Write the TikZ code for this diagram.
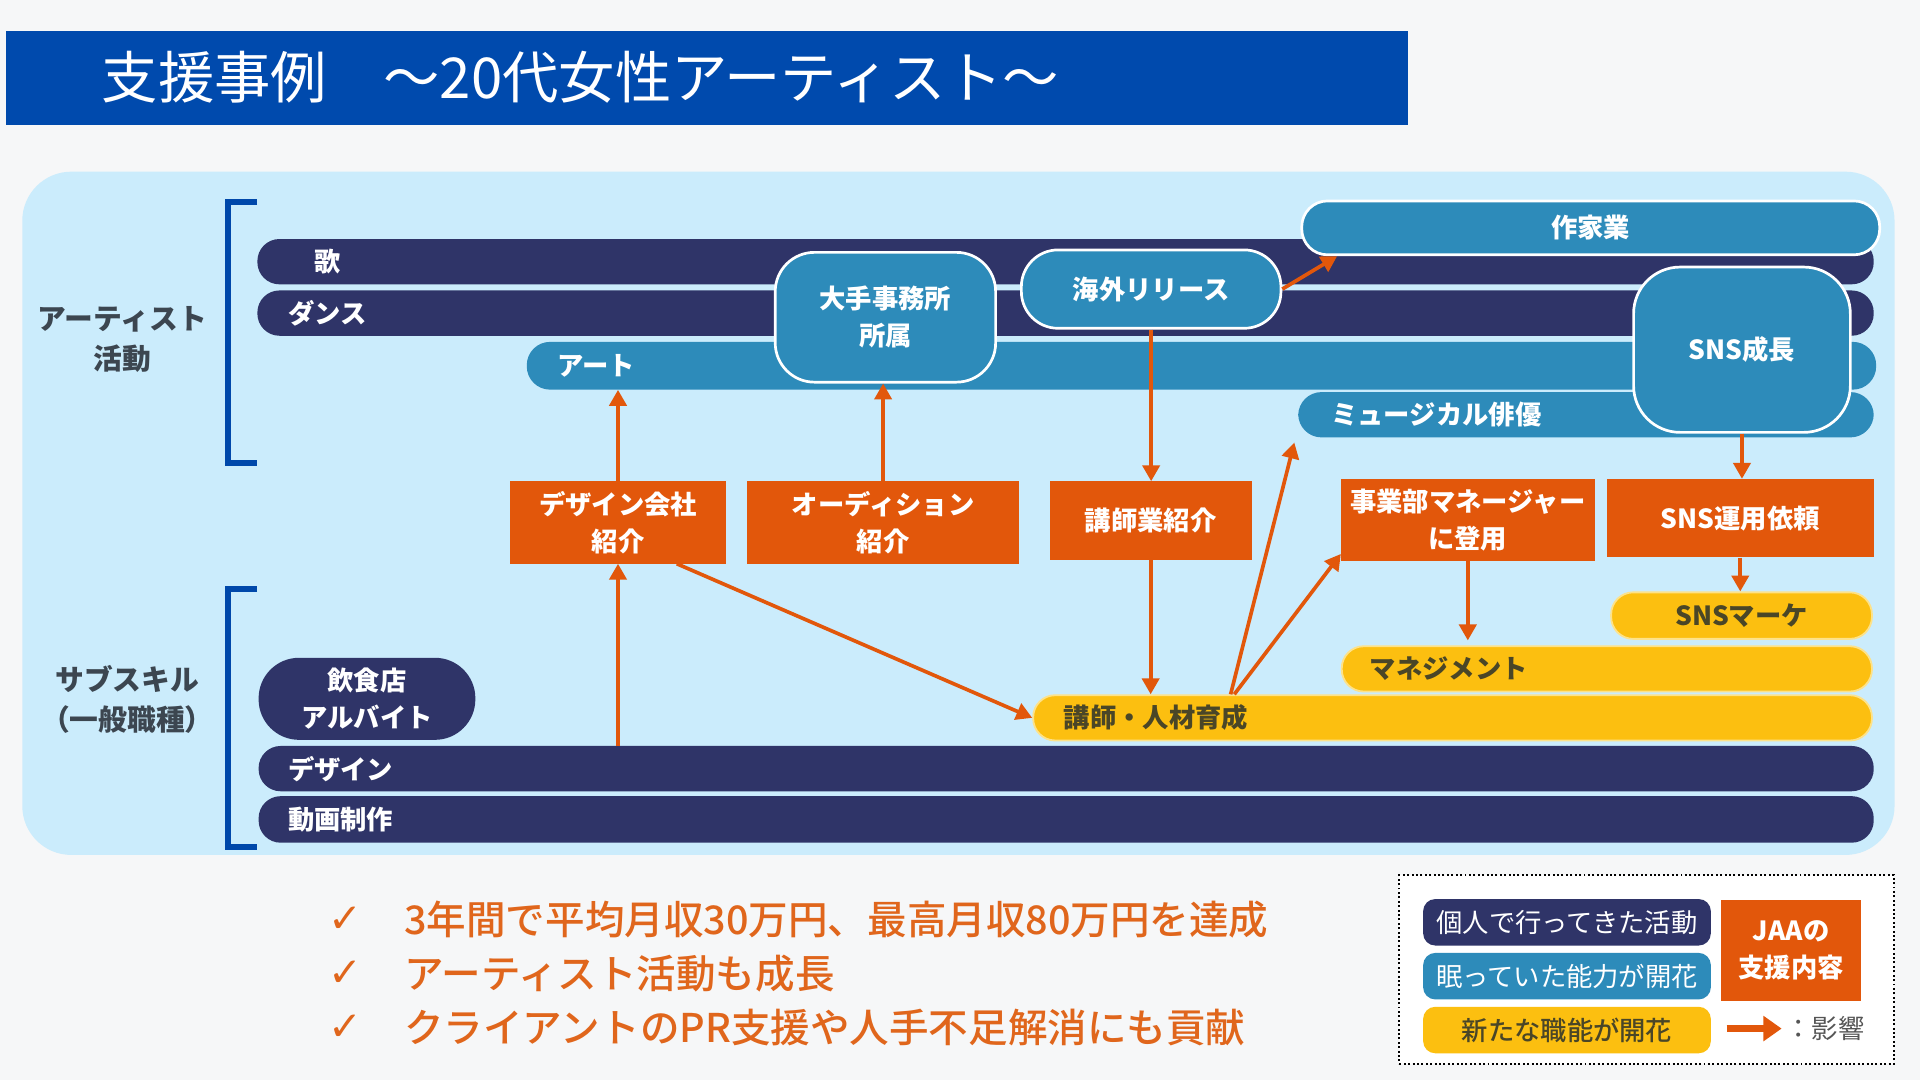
\documentclass[tikz,border=0pt]{standalone}
\usepackage{fontspec}
\setmainfont{Noto Sans CJK JP}
\newfontfamily\jpmed{Noto Sans CJK JP Medium}
\newfontfamily\dejavu{DejaVu Sans}
\usetikzlibrary{arrows.meta}
\definecolor{pagebg}{HTML}{F6F7F8}
\definecolor{titleblue}{HTML}{004AAD}
\definecolor{panelc}{HTML}{CBECFC}
\definecolor{navy}{HTML}{2F3468}
\definecolor{midblue}{HTML}{2D8BBA}
\definecolor{jaaorange}{HTML}{E2570B}
\definecolor{yel}{HTML}{FCBF10}
\definecolor{yelline}{HTML}{FDE28A}
\definecolor{bracketc}{HTML}{0048AA}
\definecolor{sidegray}{HTML}{3C4650}
\definecolor{yeltext}{HTML}{4A4627}
\definecolor{bulletc}{HTML}{E0661C}
\definecolor{legendgray}{HTML}{555555}
\newcommand\bx[8]{%
  \pgfmathsetmacro\bxw{#5-#3-2*#7}%
  \pgfmathsetmacro\bxh{#6-#4}%
  \node[#1, anchor=north west, inner xsep=#7pt, inner ysep=0pt,
        text width=\bxw pt, minimum height=\bxh pt] (#2) at (#3,#4) {#8};}
\tikzset{
  boxfont/.style={font=\fontsize{21.5}{30}\selectfont\bfseries},
  navybar/.style={fill=navy, text=white, boxfont, rounded corners=18pt, align=left},
  bluebar/.style={fill=midblue, text=white, boxfont, rounded corners=19pt, align=left},
  bluebox/.style={fill=midblue, draw=white, line width=2.2pt, text=white, boxfont, align=center},
  orbox/.style={fill=jaaorange, text=white, boxfont, align=center},
  yelbar/.style={fill=yel, draw=yelline, line width=1.5pt, text=yeltext, boxfont, rounded corners=18pt, align=left},
  arr/.style={draw=jaaorange, line width=3pt, -{Triangle[width=14pt,length=13pt]}},
  bracket/.style={draw=bracketc, line width=5pt, line join=miter},
  sidelabel/.style={text=sidegray, font=\fontsize{23.5}{33}\selectfont\bfseries, align=center},
  bullettext/.style={text=bulletc, font=\fontsize{32.3}{40}\jpmed, anchor=west, inner sep=0pt},
  checkmark/.style={text=bulletc, font=\fontsize{33}{36}\dejavu, inner sep=0pt},
  legfont/.style={font=\fontsize{21.5}{30}\selectfont}
}
\begin{document}
\begin{tikzpicture}[x=1pt,y=-1pt]
\useasboundingbox (0,0) rectangle (1568,882);
\fill[pagebg] (0,0) rectangle (1568,882);
% title
\node[fill=titleblue, anchor=north west, minimum width=1145pt, minimum height=77pt, inner sep=0pt] (titlebar) at (5,25) {};
\node[anchor=west, text=white, font=\fontsize{46}{50}\selectfont, inner sep=0pt] (titletext) at (83,63) {支援事例　～20代女性アーティスト～};
% panel
\node[fill=panelc, anchor=north west, minimum width=1529pt, minimum height=558pt, rounded corners=40pt, inner sep=0pt] (panel) at (18,140) {};
% brackets
\draw[bracket] (210,165) -- (186,165) -- (186,378) -- (210,378);
\draw[bracket] (210,481) -- (186,481) -- (186,692) -- (210,692);
\node[sidelabel] (artist) at (100,277) {アーティスト\\活動};
\node[sidelabel] (subskill) at (104,571) {サブスキル\\（一般職種）};
% artist bars
\bx{navybar}{uta}{210}{195}{1530}{232}{47}{歌}
\bx{navybar}{dance}{210}{237}{1530}{274}{25}{ダンス}
\bx{bluebar}{art}{430}{279}{1532}{318}{25}{アート}
\bx{bluebar}{musical}{1060}{320}{1530}{357}{27}{ミュージカル俳優}
\bx{bluebox,rounded corners=21pt}{sakka}{1062}{163}{1534}{207}{10}{作家業}
\bx{bluebox,rounded corners=32pt}{oote}{632}{205}{812}{311}{8}{大手事務所\\所属}
\bx{bluebox,rounded corners=30pt}{kaigai}{833}{203}{1045}{267}{8}{海外リリース}
\bx{bluebox,rounded corners=38pt}{sns}{1333}{217}{1510}{352}{8}{SNS成長}
% JAA support boxes
\bx{orbox}{designco}{416}{393}{593}{460}{4}{デザイン会社\\紹介}
\bx{orbox}{audition}{610}{393}{832}{460}{4}{オーディション\\紹介}
\bx{orbox}{kousigyo}{857}{393}{1022}{457}{4}{講師業紹介}
\bx{orbox}{jigyo}{1095}{391}{1302}{458}{2}{事業部マネージャー\\に登用}
\bx{orbox}{snsirai}{1312}{391}{1530}{455}{4}{SNS運用依頼}
% new skills
\bx{yelbar,align=center}{snsmk}{1315}{483}{1528}{521}{10}{SNSマーケ}
\bx{yelbar}{mgmt}{1095}{527}{1528}{564}{23}{マネジメント}
\bx{yelbar}{kouji}{843}{567}{1528}{604}{25}{講師・人材育成}
% sub skills
\bx{navybar,rounded corners=33pt,align=center}{inshoku}{211}{537}{388}{604}{6}{飲食店\\アルバイト}
\bx{navybar}{design}{211}{609}{1530}{646}{24}{デザイン}
\bx{navybar}{douga}{211}{650}{1530}{688}{24}{動画制作}
% arrows
\draw[arr] (designco.south |- design.north) -- (designco.south);
\draw[arr] (designco.north) -- (designco.north |- art.south);
\draw[arr] (audition.north) -- (audition.north |- oote.south);
\draw[arr] (kaigai.south) -- (kaigai.south |- kousigyo.north);
\draw[arr] (kousigyo.south) -- (kousigyo.south |- kouji.north);
\draw[arr] ([xshift=48pt]designco.south) -- (kouji.west);
\draw[arr] ([xshift=162pt]kouji.north west) -- ([xshift=-3pt,yshift=-4pt]musical.south west);
\draw[arr] ([xshift=165pt]kouji.north west) -- ([yshift=6pt]jigyo.south west);
\draw[arr] (kaigai.east) -- ([xshift=30pt]sakka.south west);
\draw[arr, shorten >=4pt] (jigyo.south) -- (jigyo.south |- mgmt.north);
\draw[arr] (sns.south) -- (sns.south |- snsirai.north);
\draw[arr] (snsirai.south) -- (snsirai.south |- snsmk.north);
% bullets
\node[checkmark] (c1) at (282,751) {✓};
\node[checkmark] (c2) at (282,795) {✓};
\node[checkmark] (c3) at (282,839) {✓};
\node[bullettext] (b1) at (330,751) {3年間で平均月収30万円、最高月収80万円を達成};
\node[bullettext] (b2) at (330,795) {アーティスト活動も成長};
\node[bullettext] (b3) at (330,839) {クライアントのPR支援や人手不足解消にも貢献};
% legend
\node[fill=white, draw=black, dotted, line width=1.6pt, anchor=north west, minimum width=404pt, minimum height=154pt, inner sep=0pt] (legend) at (1142,714) {};
\bx{fill=navy,text=white,legfont,rounded corners=10pt,align=center}{l1}{1162}{734}{1397}{772}{2}{個人で行ってきた活動}
\bx{fill=midblue,text=white,legfont,rounded corners=10pt,align=center}{l2}{1162}{778}{1397}{816}{2}{眠っていた能力が開花}
\bx{fill=yel,text=yeltext,font=\fontsize{21.5}{30}\jpmed,rounded corners=10pt,align=center}{l3}{1162}{822}{1397}{860}{2}{新たな職能が開花}
\bx{orbox}{l4}{1405}{735}{1520}{817}{2}{JAAの\\支援内容}
\coordinate (la1) at (1410,840);
\coordinate (la2) at (1455,840);
\draw[draw=jaaorange, line width=6pt, -{Triangle[width=20pt,length=15pt]}] (la1) -- (la2);
\node[anchor=west, text=legendgray, legfont, inner sep=0pt] (l5) at (1458,840) {：影響};
\end{tikzpicture}
\end{document}
